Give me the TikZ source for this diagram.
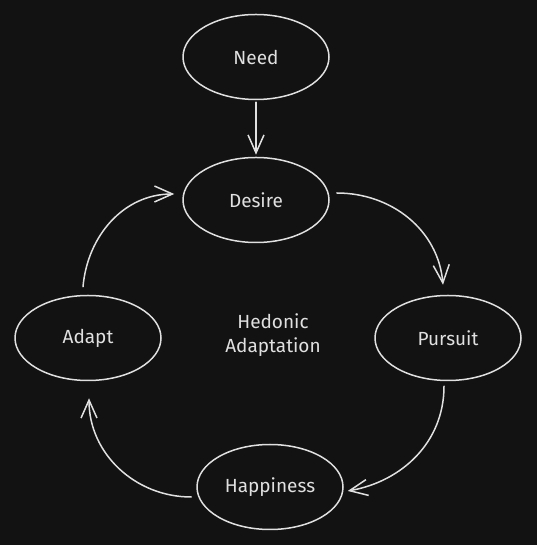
\documentclass[tikz,border=0pt]{standalone}
\usepackage{fontspec}
\setmainfont{Fira Sans}
\usetikzlibrary{arrows.meta,shapes.geometric}
\definecolor{bgdark}{HTML}{121212}
\definecolor{inkwhite}{HTML}{E0E0E0}
\begin{document}
\begin{tikzpicture}[x=1pt,y=1pt,line join=round,line cap=round,>={Straight Barb[length=18pt,width=16pt]},line width=1.5pt]
				\tikzset{every node/.style={font=\fontsize{19}{24}\selectfont,text=inkwhite}}
				\tikzset{stage/.style={draw=inkwhite,ellipse,minimum width=146pt,minimum height=85pt,inner sep=0pt}}
				\fill[bgdark] (0,0) rectangle (537,545);
				\node[stage] (need) at (256,488) {Need};
				\node[stage] (desire) at (256,345) {Desire};
				\node[stage] (pursuit) at (448,207) {Pursuit};
				\node[stage] (happiness) at (270,58) {Happiness};
				\node[stage] (adapt) at (88,207) {Adapt};
				\node[align=center] (hedonic) at (273,210) {Hedonic\\Adaptation};
				\draw[->,draw=inkwhite,shorten <=2pt,shorten >=2pt] (need) -- (desire);
				\draw[->,draw=inkwhite] ([shift={(7,7)}]desire.east) to[out=0,in=95] ([shift={(-5,10)}]pursuit.north);
				\draw[->,draw=inkwhite] ([shift={(-4,-5)}]pursuit.south) to[out=-90,in=10] ([shift={(4,-4)}]happiness.east);
				\draw[->,draw=inkwhite] ([shift={(-5,-10)}]happiness.west) to[out=180,in=-90] ([shift={(1,-17)}]adapt.south);
				\draw[->,draw=inkwhite] ([shift={(-5,8)}]adapt.north) to[out=85,in=180] ([shift={(-8,6)}]desire.west);
			\end{tikzpicture}
\end{document}
